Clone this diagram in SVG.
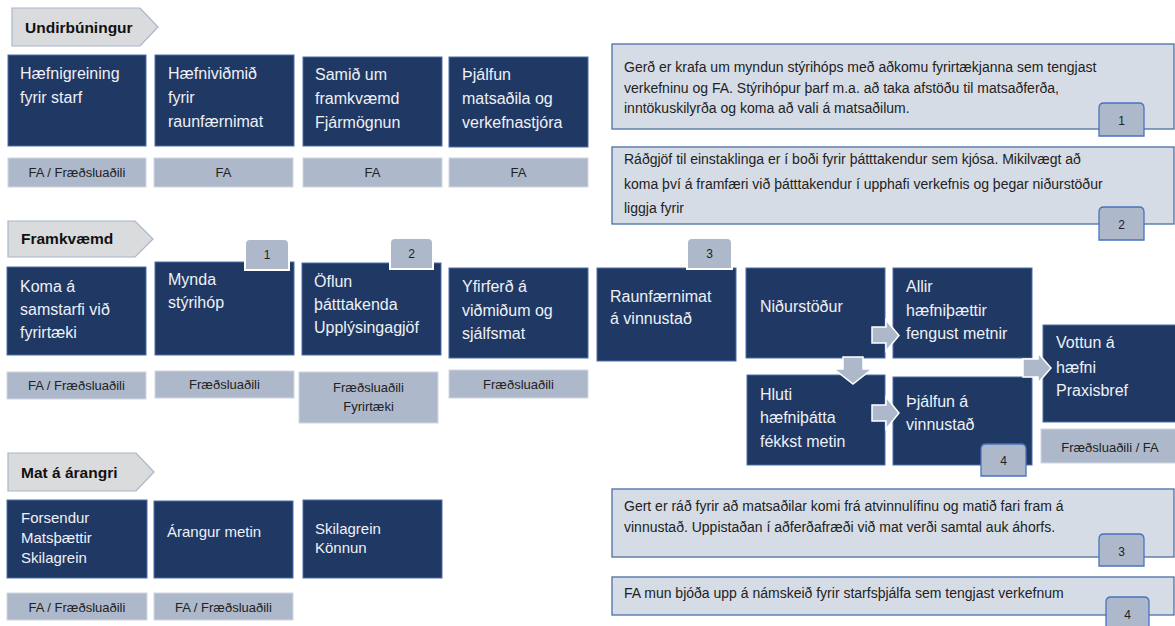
<svg xmlns="http://www.w3.org/2000/svg" width="1175" height="626" viewBox="0 0 1175 626">
<style>
.hdr{fill:#dadbdd;stroke:#a8b6cc;stroke-width:1.2}
.hdt{font-family:"Liberation Sans",Arial,sans-serif;font-size:15.5px;font-weight:bold;fill:#111}
.node{fill:#203864;stroke:#4a6fa8;stroke-width:1}
.nt{font-family:"Liberation Sans",Arial,sans-serif;font-size:16px;fill:#eef1f6}
.nts{font-family:"Liberation Sans",Arial,sans-serif;font-size:15px;fill:#eef1f6}
.sub{fill:#adb9ca;stroke:#d0d7e2;stroke-width:1}
.st{font-family:"Liberation Sans",Arial,sans-serif;font-size:13px;fill:#222;text-anchor:middle}
.call{fill:#d6dce5;stroke:#4a6fa8;stroke-width:1.3}
.ct{font-family:"Liberation Sans",Arial,sans-serif;font-size:14px;fill:#222}
.bdg{fill:#adb9ca;stroke:#ffffff;stroke-width:2}
.bdgb{fill:#adb9ca;stroke:#4a72c0;stroke-width:1.3}
.bt{font-family:"Liberation Sans",Arial,sans-serif;font-size:12px;fill:#222;text-anchor:middle}
.arr{fill:#adb9ca;stroke:#ffffff;stroke-width:1.5}
</style>

<!-- Section headers -->
<g id="hdr-undirbuningur">
  <polygon class="hdr" points="12,8 140,8 158,27 140,46 12,46"/>
  <text class="hdt" x="25" y="33">Undirbúningur</text>
</g>
<g id="hdr-framkvaemd">
  <polygon class="hdr" points="8,221 135,221 153,239 135,257 8,257"/>
  <text class="hdt" x="21" y="244">Framkvæmd</text>
</g>
<g id="hdr-mat">
  <polygon class="hdr" points="8,453 136,453 154,472 136,491 8,491"/>
  <text class="hdt" x="21" y="478">Mat á árangri</text>
</g>

<!-- Row 1 -->
<g id="n-haefnigreining">
  <rect class="node" x="8" y="55" width="138" height="91"/>
  <text class="nt" x="20" y="79">Hæfnigreining</text>
  <text class="nt" x="20" y="103">fyrir starf</text>
  <rect class="sub" x="8" y="158" width="138" height="29"/>
  <text class="st" x="77" y="177">FA / Fræðsluaðili</text>
</g>
<g id="n-haefnividmid">
  <rect class="node" x="155" y="55" width="139" height="91"/>
  <text class="nt" x="168" y="79">Hæfniviðmið</text>
  <text class="nt" x="168" y="103">fyrir</text>
  <text class="nt" x="168" y="127">raunfærnimat</text>
  <rect class="sub" x="154" y="158" width="139" height="29"/>
  <text class="st" x="223.5" y="177">FA</text>
</g>
<g id="n-samid">
  <rect class="node" x="303" y="57" width="139" height="89"/>
  <text class="nt" x="315" y="80">Samið um</text>
  <text class="nt" x="315" y="104">framkvæmd</text>
  <text class="nt" x="315" y="128">Fjármögnun</text>
  <rect class="sub" x="303" y="158" width="139" height="29"/>
  <text class="st" x="372.5" y="177">FA</text>
</g>
<g id="n-thjalfun-matsadila">
  <rect class="node" x="449" y="57" width="139" height="90"/>
  <text class="nt" x="462" y="80">Þjálfun</text>
  <text class="nt" x="462" y="104">matsaðila og</text>
  <text class="nt" x="462" y="128">verkefnastjóra</text>
  <rect class="sub" x="449" y="158" width="139" height="29"/>
  <text class="st" x="518.5" y="177">FA</text>
</g>

<!-- Row 2 -->
<g id="n-koma">
  <rect class="node" x="7" y="267" width="139" height="88"/>
  <text class="nt" x="20" y="292">Koma á</text>
  <text class="nt" x="20" y="315">samstarfi við</text>
  <text class="nt" x="20" y="338">fyrirtæki</text>
  <rect class="sub" x="7" y="372" width="139" height="27"/>
  <text class="st" x="76.5" y="390">FA / Fræðsluaðili</text>
</g>
<g id="n-mynda">
  <rect class="node" x="155" y="262" width="139" height="93"/>
  <text class="nt" x="168" y="285">Mynda</text>
  <text class="nt" x="168" y="308">stýrihóp</text>
  <path class="bdg" d="M245,270 V244 Q245,239 250,239 H284 Q289,239 289,244 V270 Z"/>
  <text class="bt" x="267" y="259">1</text>
  <rect class="sub" x="155" y="371" width="139" height="27"/>
  <text class="st" x="224.5" y="389">Fræðsluaðili</text>
</g>
<g id="n-oflun">
  <rect class="node" x="302" y="263" width="139" height="92"/>
  <text class="nt" x="314" y="287">Öflun</text>
  <text class="nt" x="314" y="310">þátttakenda</text>
  <text class="nt" x="314" y="333">Upplýsingagjöf</text>
  <path class="bdg" d="M390,269 V243 Q390,238 395,238 H428 Q433,238 433,243 V269 Z"/>
  <text class="bt" x="411.5" y="258">2</text>
  <rect class="sub" x="299" y="372" width="139" height="51"/>
  <text class="st" x="368.5" y="392">Fræðsluaðili</text>
  <text class="st" x="368.5" y="411">Fyrirtæki</text>
</g>
<g id="n-yfirferd">
  <rect class="node" x="449" y="268" width="139" height="90"/>
  <text class="nt" x="462" y="292">Yfirferð á</text>
  <text class="nt" x="462" y="316">viðmiðum og</text>
  <text class="nt" x="462" y="339">sjálfsmat</text>
  <rect class="sub" x="449" y="370" width="139" height="28"/>
  <text class="st" x="518.5" y="389">Fræðsluaðili</text>
</g>
<g id="n-raunfaernimat">
  <rect class="node" x="597" y="268" width="139" height="93"/>
  <text class="nt" x="610" y="302">Raunfærnimat</text>
  <text class="nt" x="610" y="324">á vinnustað</text>
  <path class="bdg" d="M687,269 V243 Q687,238 692,238 H727 Q732,238 732,243 V269 Z"/>
  <text class="bt" x="709.5" y="258">3</text>
</g>
<g id="n-nidurstodur">
  <rect class="node" x="746" y="268" width="139" height="90"/>
  <text class="nt" x="760" y="312">Niðurstöður</text>
</g>
<g id="n-allir">
  <rect class="node" x="893" y="268" width="139" height="90"/>
  <text class="nt" x="906" y="292">Allir</text>
  <text class="nt" x="906" y="316">hæfniþættir</text>
  <text class="nt" x="906" y="339">fengust metnir</text>
</g>
<g id="n-hluti">
  <rect class="node" x="747" y="375" width="138" height="90"/>
  <text class="nt" x="760" y="400">Hluti</text>
  <text class="nt" x="760" y="423">hæfniþátta</text>
  <text class="nt" x="760" y="447">fékkst metin</text>
</g>
<g id="n-thjalfun-vinnustad">
  <rect class="node" x="893" y="377" width="139" height="88"/>
  <text class="nt" x="906" y="407">Þjálfun á</text>
  <text class="nt" x="906" y="430">vinnustað</text>
  <path class="bdgb" d="M981,476 V449 Q981,444 986,444 H1021 Q1026,444 1026,449 V476 Z"/>
  <text class="bt" x="1003.5" y="465">4</text>
</g>
<g id="n-vottun">
  <rect class="node" x="1043" y="325" width="133" height="97"/>
  <text class="nt" x="1056" y="348">Vottun á</text>
  <text class="nt" x="1056" y="373">hæfni</text>
  <text class="nt" x="1056" y="396">Praxisbref</text>
  <rect class="sub" x="1041" y="429" width="135" height="34"/>
  <text class="st" x="1110" y="452">Fræðsluaðili / FA</text>
</g>

<!-- Row 3 -->
<g id="n-forsendur">
  <rect class="node" x="7" y="500" width="140" height="78"/>
  <text class="nts" x="21" y="523">Forsendur</text>
  <text class="nts" x="21" y="543">Matsþættir</text>
  <text class="nts" x="21" y="563">Skilagrein</text>
  <rect class="sub" x="7" y="593" width="140" height="27"/>
  <text class="st" x="77" y="612">FA / Fræðsluaðili</text>
</g>
<g id="n-arangur">
  <rect class="node" x="154" y="501" width="139" height="77"/>
  <text class="nts" x="167" y="537">Árangur metin</text>
  <rect class="sub" x="154" y="593" width="139" height="27"/>
  <text class="st" x="223.5" y="612">FA / Fræðsluaðili</text>
</g>
<g id="n-skilagrein">
  <rect class="node" x="303" y="500" width="139" height="78"/>
  <text class="nts" x="315" y="534">Skilagrein</text>
  <text class="nts" x="315" y="553">Könnun</text>
</g>

<!-- Callouts -->
<g id="callout-1">
  <rect class="call" x="612" y="44" width="562" height="85"/>
  <text class="ct" x="624" y="72">Gerð er krafa um myndun stýrihóps með aðkomu fyrirtækjanna sem tengjast</text>
  <text class="ct" x="624" y="93">verkefninu og FA. Stýrihópur þarf m.a. að taka afstöðu til matsaðferða,</text>
  <text class="ct" x="624" y="113">inntökuskilyrða  og koma að vali á matsaðilum.</text>
  <path class="bdgb" d="M1099,136 V108 Q1099,103 1104,103 H1139 Q1144,103 1144,108 V136 Z"/>
  <text class="bt" x="1121.5" y="125">1</text>
</g>
<g id="callout-2">
  <rect class="call" x="612" y="147" width="562" height="77"/>
  <text class="ct" x="624" y="164">Ráðgjöf til einstaklinga er í boði fyrir þátttakendur sem kjósa.  Mikilvægt að</text>
  <text class="ct" x="624" y="189">koma því á framfæri við þátttakendur í upphafi verkefnis og þegar niðurstöður</text>
  <text class="ct" x="624" y="213">liggja fyrir</text>
  <path class="bdgb" d="M1099,240 V212 Q1099,207 1104,207 H1139 Q1144,207 1144,212 V240 Z"/>
  <text class="bt" x="1121.5" y="229">2</text>
</g>
<g id="callout-3">
  <rect class="call" x="612" y="489" width="562" height="68"/>
  <text class="ct" x="624" y="511">Gert er ráð fyrir að matsaðilar komi frá atvinnulífinu og  matið fari fram á</text>
  <text class="ct" x="624" y="532">vinnustað. Uppistaðan í aðferðafræði við mat verði samtal auk áhorfs.</text>
  <path class="bdgb" d="M1099,566 V539 Q1099,534 1104,534 H1139 Q1144,534 1144,539 V566 Z"/>
  <text class="bt" x="1121.5" y="556">3</text>
</g>
<g id="callout-4">
  <rect class="call" x="612" y="577" width="562" height="38"/>
  <text class="ct" x="624" y="598">FA mun bjóða upp á námskeið fyrir starfsþjálfa sem tengjast verkefnum</text>
  <path class="bdgb" d="M1106,628 V602 Q1106,597 1111,597 H1144 Q1149,597 1149,602 V628 Z"/>
  <text class="bt" x="1127.5" y="619">4</text>
</g>

<!-- Connectors (block arrows) -->
<g id="connectors">
  <polygon class="arr" points="872,327 886,327 886,320 899,335.5 886,351 886,343 872,343"/>
  <polygon class="arr" points="872,405 886,405 886,397 899,413 886,429 886,421 872,421"/>
  <polygon class="arr" points="843,357 863,357 863,369 872,369 853,384 834,369 843,369"/>
  <polygon class="arr" points="1023,359 1038,359 1038,353 1051,368 1038,383 1038,377 1023,377"/>
</g>
</svg>
